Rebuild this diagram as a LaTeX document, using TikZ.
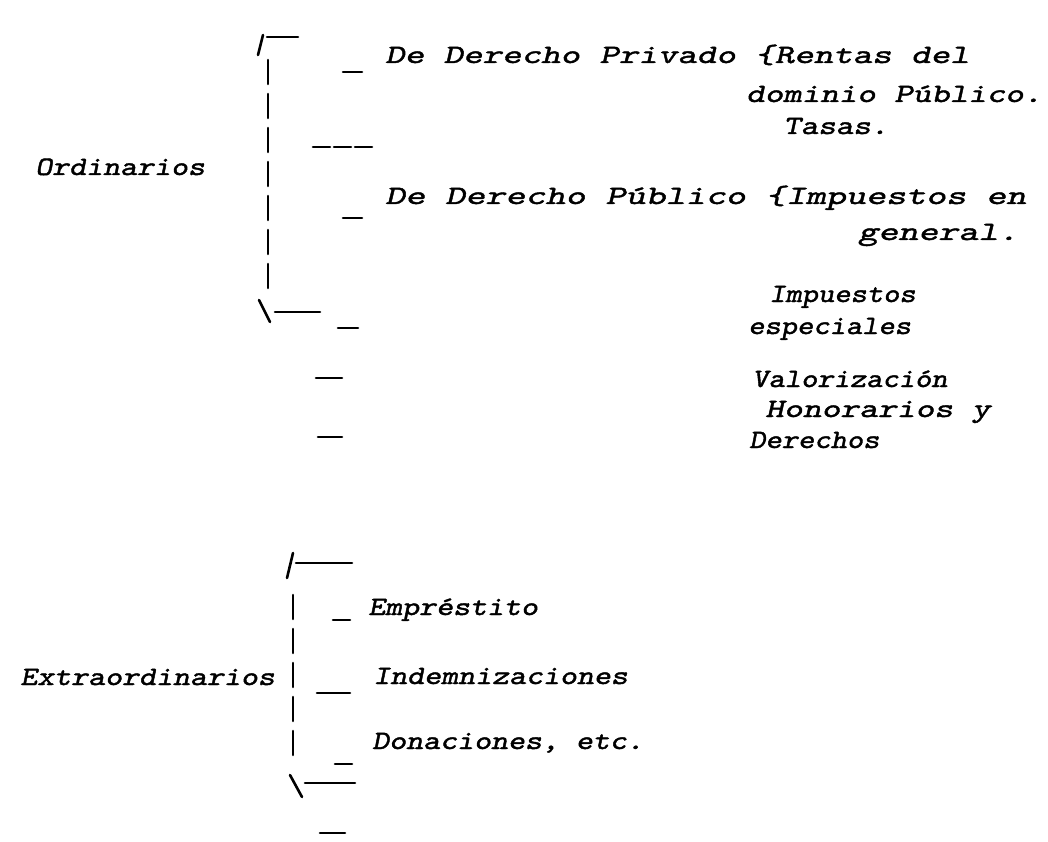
\documentclass[tikz,border=0pt]{standalone}
\usepackage{fontspec}
\newcommand\typeface[1]{\fontspec{lmmonoslant10-regular.otf}[FakeBold=1.6, FakeStretch=#1]}
\usepackage{tikz}
\usepackage{xcolor}

\tikzset{
  txt/.style={anchor=base west, inner sep=0pt, font=\fontsize{26.5}{32}\selectfont\typeface{#1}},
  txt/.default=1.22,
  stroke/.style={line width=2.6pt, line cap=round},
  gapline/.style={stroke, dash pattern=on 24pt off 10pt}
}

\begin{document}
\begin{tikzpicture}[x=1pt,y=1pt,yscale=-1,xscale=1]
        \useasboundingbox[fill=white] (0,0) rectangle (1048,842);

        %Shape: Brace upper [id:ordinarios]
        \draw [stroke] (258,55) -- (263,35) ;
        \draw [stroke] (267,37) -- (298,37) ;
        \draw [gapline] (268,60) -- (268,290) ;
        \draw [stroke] (259,300) -- (270,322) ;
        \draw [stroke] (275,312) -- (320,312) ;
        %Shape: Ticks upper
        \draw [stroke] (343,72) -- (362,72) ;
        \draw [stroke, dash pattern=on 17pt off 4pt] (313,147) -- (373,147) ;
        \draw [stroke] (343,218) -- (362,218) ;
        \draw [stroke] (338,328) -- (358,328) ;
        \draw [stroke] (316,378) -- (342,378) ;
        \draw [stroke] (318,437) -- (342,437) ;

        %Shape: Brace lower [id:extraordinarios]
        \draw [stroke] (287,578) -- (293,553) ;
        \draw [stroke] (296,563) -- (352,563) ;
        \draw [gapline] (293,595) -- (293,760) ;
        \draw [stroke] (290,775) -- (302,797) ;
        \draw [stroke] (305,783) -- (355,783) ;
        %Shape: Ticks lower
        \draw [stroke] (333,620) -- (350,620) ;
        \draw [stroke] (317,693) -- (350,693) ;
        \draw [stroke] (335,764) -- (352,764) ;
        \draw [stroke] (320,833) -- (345,833) ;

        % Text Node
        \draw (35,175) node [txt] (ord) {Ordinarios};
        % Text Node
        \draw (385,63) node [txt=1.40] (dpriv) {De Derecho Privado \{Rentas del};
        % Text Node
        \draw (746,102) node [txt=1.33] (dom) {dominio Público.};
        % Text Node
        \draw (783,134) node [txt=1.26] (tasas) {Tasas.};
        % Text Node
        \draw (385,204) node [txt=1.44] (dpub) {De Derecho Público \{Impuestos en};
        % Text Node
        \draw (858,240) node [txt=1.44] (gen) {general.};
        % Text Node
        \draw (769,302) node [txt=1.17] (impesp) {Impuestos};
        % Text Node
        \draw (748,334) node [txt=1.17] (esp) {especiales};
        % Text Node
        \draw (752,387) node [txt=1.17] (val) {Valorización};
        % Text Node
        \draw (765,417) node [txt=1.35] (hon) {Honorarios y};
        % Text Node
        \draw (749,448) node [txt=1.17] (der) {Derechos};

        % Text Node
        \draw (20,685) node [txt] (extra) {Extraordinarios};
        % Text Node
        \draw (368,615) node [txt] (emp) {Empréstito};
        % Text Node
        \draw (373,684) node [txt] (ind) {Indemnizaciones};
        % Text Node
        \draw (372,749) node [txt] (don) {Donaciones, etc.};

        \end{tikzpicture}
\end{document}
